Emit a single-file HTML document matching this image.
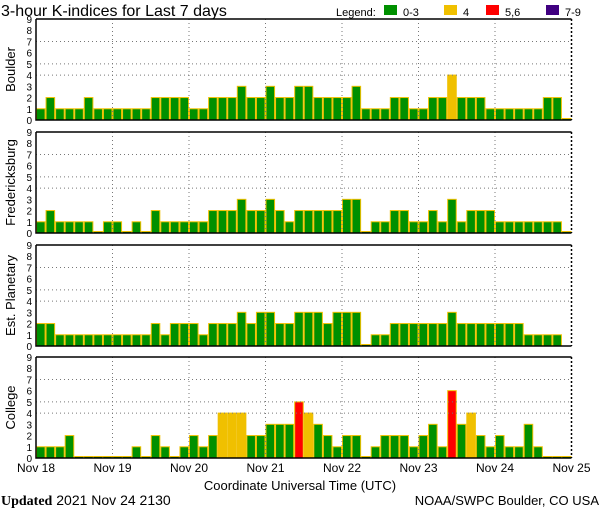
<!DOCTYPE html>
<html><head><meta charset="utf-8">
<style>
html,body{margin:0;padding:0;background:#fff;}
svg{display:block;font-family:"Liberation Sans",sans-serif;}
</style></head>
<body>
<svg id="chart" width="600" height="510" viewBox="0 0 600 510" xmlns="http://www.w3.org/2000/svg">
<text x="1" y="16" font-size="16" fill="#000">3-hour K-indices for Last 7 days</text>
<g font-size="11">
<text x="336" y="16">Legend:</text>
<rect x="384" y="5" width="13" height="10" fill="#009000"/>
<text x="403" y="16">0-3</text>
<rect x="444" y="5" width="13" height="10" fill="#f0c000"/>
<text x="463" y="16">4</text>
<rect x="486" y="5" width="13" height="10" fill="#ff0000"/>
<text x="505" y="16">5,6</text>
<rect x="546" y="5" width="13" height="10" fill="#400080"/>
<text x="565" y="16">7-9</text>
</g>
<g id="panels"></g>
<text x="300" y="490" text-anchor="middle" font-size="13">Coordinate Universal Time (UTC)</text>
<text x="1" y="505" font-size="14"><tspan font-family="Liberation Serif,serif" font-weight="bold">Updated</tspan> 2021 Nov 24 2130</text>
<text x="599" y="505" text-anchor="end" font-size="13">NOAA/SWPC Boulder, CO USA</text>
</svg>
<script>
const stations = ["Boulder","Fredericksburg","Est. Planetary","College"];
const boulder = [1,2,1,1,1,2,1,1, 1,1,1,1,2,2,2,2, 1,1,2,2,2,3,2,2, 3,2,2,3,3,2,2,2, 2,3,1,1,1,2,2,1, 1,2,2,4,2,2,2,1, 1,1,1,1,1,2,2,0];
const fredericksburg = [1,2,1,1,1,1,0,1, 1,0,1,0,2,1,1,1, 1,1,2,2,2,3,2,2, 3,2,1,2,2,2,2,2, 3,3,0,1,1,2,2,1, 1,2,1,3,1,2,2,2, 1,1,1,1,1,1,1,0];
const planetary = [2,2,1,1,1,1,1,1, 1,1,1,1,2,1,2,2, 2,1,2,2,2,3,2,3, 3,2,2,3,3,3,2,3, 3,3,0,1,1,2,2,2, 2,2,2,3,2,2,2,2, 2,2,2,1,1,1,1,null];
const college = [1,1,1,2,0,0,0,0, 0,0,1,0,2,1,0,1, 2,1,2,4,4,4,2,2, 3,3,3,5,4,3,2,1, 2,2,0,1,2,2,2,1, 2,3,1,6,3,4,2,1, 2,1,1,3,1,0,0,0];
const series = [boulder, fredericksburg, planetary, college];
const dayLabels = ["Nov 18","Nov 19","Nov 20","Nov 21","Nov 22","Nov 23","Nov 24","Nov 25"];
const yTicks = [0,1,2,3,4,5,6,7,8,9];
const gridLevels = [4,5,7];

const NS="http://www.w3.org/2000/svg";
const X0=36, X1=571.5, N=56, BW=(X1-X0)/N;
const tops=[19,132,245,357], PH=101;
const g=document.getElementById('panels');
function mk(t,a,p){const e=document.createElementNS(NS,t);for(const k in a)e.setAttribute(k,a[k]);(p||g).appendChild(e);return e;}
function xScale(i){return X0+i*BW;}
function colorFor(v){return v<=3?"#009000":v==4?"#f0c000":v<=6?"#ff0000":"#400080";}

series.forEach((vals,p)=>{
  const top=tops[p], bot=top+PH;
  const yScale=v=>bot-v*PH/9;
  const pg=mk('g',{});
  
  
  vals.forEach((v,i)=>{
    if(v===null)return;
    const h=Math.max(1.5,bot-yScale(v));
    const r=mk('rect',{x:xScale(i)+0.5,y:bot-h,width:BW-1,height:h,fill:colorFor(v),stroke:"#f0c000","stroke-width":1},pg);
    
    
  });
  gridLevels.forEach(l=>{
    const ln=mk('line',{x1:X0,x2:X1,y1:yScale(l),y2:yScale(l),stroke:"#777","stroke-dasharray":"1,3"},pg);
    
    
  });
  for(let d=1;d<7;d++){
    const ln=mk('line',{x1:xScale(d*8),x2:xScale(d*8),y1:top,y2:bot,stroke:"#777","stroke-dasharray":"1,3"},pg);
    
    
  }
  const ax=mk('path',{d:`M${X0} ${top}H${X1}M${X0} ${top}V${bot}H${X1}`,stroke:"#000","stroke-width":1.5,fill:"none"},pg);
  
  
  const rd=mk('line',{x1:X1,x2:X1,y1:top,y2:bot,stroke:"#000","stroke-dasharray":"2,2","stroke-width":1.5},pg);
  
  
  yTicks.forEach(t=>{
    const tx=mk('text',{x:32,y:yScale(t)+4,"text-anchor":"end","font-size":10},pg);
    tx.textContent=t;
    
    
  });
  const cy=top+PH/2;
  const lab=mk('text',{x:0,y:0,transform:`translate(15 ${cy}) rotate(-90)`,"text-anchor":"middle","font-size":13},pg);
  lab.textContent=stations[p];
  
  
});
dayLabels.forEach((d,i)=>{
  const tx=mk('text',{x:xScale(i*8),y:472,"text-anchor":"middle","font-size":12});
  tx.textContent=d;
  
  
});
</script>
</body></html>
